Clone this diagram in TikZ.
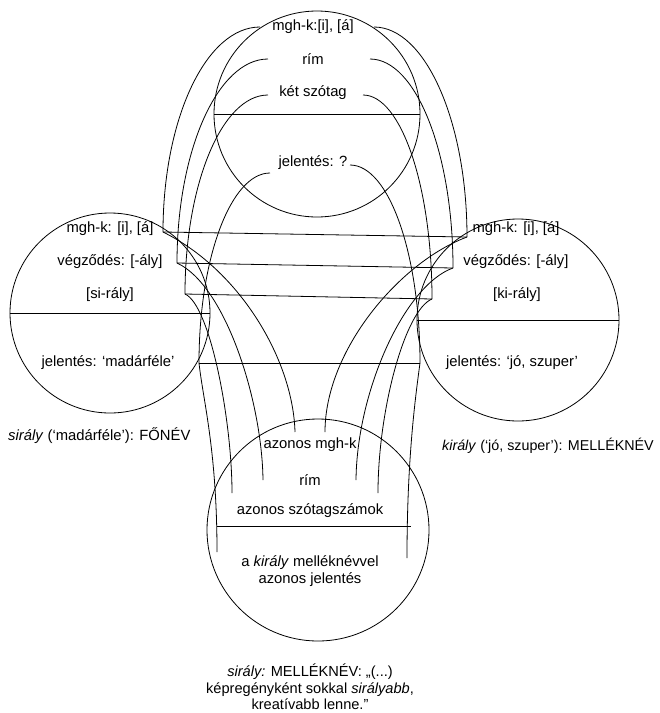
\documentclass[tikz,border=0pt]{standalone}
\usepackage{fontspec}
\setmainfont{Liberation Sans}
\begin{document}
\begin{tikzpicture}[x=1pt,y=-1pt,
  txt/.style={font=\fontsize{14.8}{17}\selectfont, inner sep=0pt, anchor=center},
  space/.style={circle, draw, inner sep=0pt, line width=0.8pt},
  link/.style={line width=0.8pt}]
\useasboundingbox (0,0) rectangle (660,713);

% mental spaces
\node[space, minimum size=206pt] (G) at (317,114) {};
\node[space, minimum size=200pt] (L) at (110,313) {};
\node[space, minimum size=202pt] (R) at (518,320) {};
\node[space, minimum size=222pt] (B) at (318,530) {};
\draw[link] (G.west) -- (G.east);
\draw[link] (L.west) -- (L.east);
\draw[link] (R.west) -- (R.east);

% generic space texts
\node[txt] (g1) at (313,27) {mgh-k:[i], [á]};
\node[txt] (g2) at (313,59) {rím};
\node[txt] (g3) at (313,93) {két szótag};
\node[txt] (g4) at (313,163) {jelentés: ?};

% input 1
\node[txt] (l1) at (110,229) {mgh-k: [i], [á]};
\node[txt] (l2) at (110,262) {végződés: [-ály]};
\node[txt] (l3) at (110,295) {[si-rály]};
\node[txt] (l4) at (108,363) {jelentés: ‘madárféle’};

% input 2
\node[txt] (r1) at (516,229) {mgh-k: [i], [á]};
\node[txt] (r2) at (516,262) {végződés: [-ály]};
\node[txt] (r3) at (517,295) {[ki-rály]};
\node[txt] (r4) at (512,363) {jelentés: ‘jó, szuper’};

% blend
\node[txt] (b1) at (310,445) {azonos mgh-k};
\node[txt] (b2) at (310,480) {rím};
\node[txt] (b3) at (310,511) {azonos szótagszámok};
\node[txt, align=center] (b4) at (310,571) {a \textit{király} melléknévvel\\azonos jelentés};

% captions
\node[txt, anchor=west] (capL) at (8,436) {\textit{sirály} (‘madárféle’): FŐNÉV};
\node[txt, anchor=west, font=\fontsize{14.3}{17}\selectfont] (capR) at (442,446) {\textit{király} (‘jó, szuper’): MELLÉKNÉV};
\node[txt, align=center, font=\fontsize{14.6}{16.6}\selectfont] (capB) at (310,687) {\textit{sirály:} MELLÉKNÉV: „(...)\\képregényként sokkal \textit{sirályabb},\\kreatívabb lenne.”};

% anchor points
\coordinate (gAl) at (260,27);  \coordinate (gAr) at (374,27);
\coordinate (gBl) at (268,59);  \coordinate (gBr) at (370,59);
\coordinate (gCl) at (268,95);  \coordinate (gCr) at (363,95);
\coordinate (gDl) at (270,173); \coordinate (gDr) at (350,165);

\coordinate (lA) at (163,232); \coordinate (rA) at (467,237);
\coordinate (lB) at (177,263); \coordinate (rB) at (453,268);
\coordinate (lC) at (185,294); \coordinate (rC) at (432,299);
\coordinate (lD) at (199,363); \coordinate (rD) at (420,363);

\coordinate (bAl) at (295,432); \coordinate (bAr) at (325,432);
\coordinate (bBl) at (263,480); \coordinate (bBr) at (356,480);
\coordinate (bCl) at (232,493); \coordinate (bCr) at (378,493);
\coordinate (bDl) at (217,552); \coordinate (bDr) at (407,558);
\coordinate (bHl) at (217,526); \coordinate (bHr) at (411,526);

% generic -> input 1
\draw[link] (gAl) .. controls +(-54,0) and +(0,-113) .. (lA);
\draw[link] (gBl) .. controls +(-50,0) and +(0,-113) .. (lB);
\draw[link] (gCl) .. controls +(-46,0) and +(0,-110) .. (lC);
\draw[link] (gDl) .. controls +(-39,0) and +(0,-105) .. (lD);
% generic -> input 2
\draw[link] (gAr) .. controls +(51,0) and +(0,-116) .. (rA);
\draw[link] (gBr) .. controls +(46,0) and +(0,-115) .. (rB);
\draw[link] (gCr) .. controls +(38,0) and +(0,-113) .. (rC);
\draw[link] (gDr) .. controls +(39,0) and +(0,-109) .. (rD);

% cross-space mapping
\draw[link] (lA) -- (rA);
\draw[link] (lB) -- (rB);
\draw[link] (lC) -- (rC);
\draw[link] (lD) -- (rD);

% input 1 -> blend
\draw[link] (lA) .. controls +(77,38) and +(-2,-72) .. (bAl);
\draw[link] (lB) .. controls +(48,22) and +(-1,-80) .. (bBl);
\draw[link] (lC) .. controls +(25,11) and +(0,-73) .. (bCl);
\draw[link] (lD) .. controls +(4,37) and +(0,-102) .. (bDl);
% input 2 -> blend
\draw[link] (rA) .. controls +(-67,25) and +(0,-82) .. (bAr);
\draw[link] (rB) .. controls +(-48,17) and +(1,-90) .. (bBr);
\draw[link] (rC) .. controls +(-27,11) and +(0,-83) .. (bCr);
\draw[link] (rD) .. controls +(-5,37) and +(0,-98) .. (bDr);

\draw[link] (bHl) -- (bHr);
\end{tikzpicture}
\end{document}
